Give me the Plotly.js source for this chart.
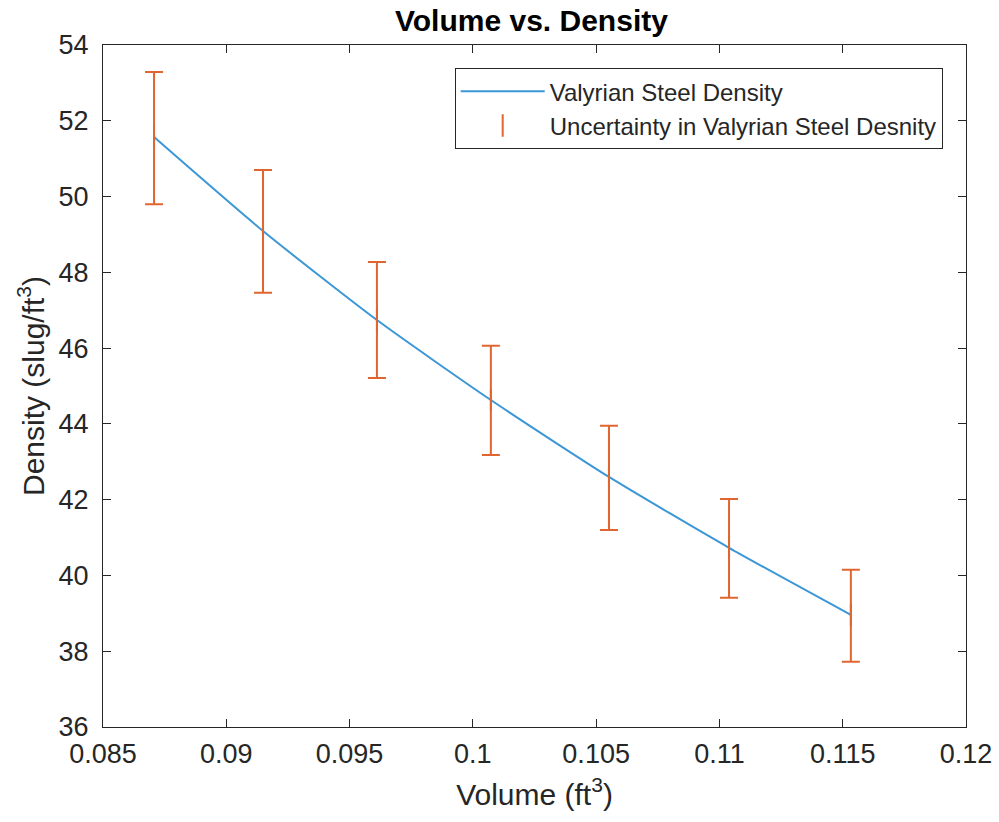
<!DOCTYPE html>
<html>
<head>
<meta charset="utf-8">
<script src="https://cdn.plot.ly/plotly-3.0.1.min.js"></script>
<style>html,body{margin:0;padding:0;background:#fff;}#chart{width:999px;height:822px;}</style>
</head>
<body>
<div id="chart"></div>
<script>
// Data
const volume = [0.08707, 0.09149, 0.09611, 0.10073, 0.10552, 0.11039, 0.11533];
const density = [51.57, 49.09, 46.74, 44.63, 42.60, 40.73, 38.96];
const errPlus = [1.72, 1.61, 1.53, 1.43, 1.35, 1.29, 1.19];
const errMinus = [1.77, 1.63, 1.53, 1.45, 1.40, 1.32, 1.24];
const xTicks = [0.085, 0.09, 0.095, 0.1, 0.105, 0.11, 0.115, 0.12];
const xTickLabels = ['0.085', '0.09', '0.095', '0.1', '0.105', '0.11', '0.115', '0.12'];
const yTicks = [36, 38, 40, 42, 44, 46, 48, 50, 52, 54];

const font = 'Liberation Sans, Arial, Helvetica, sans-serif';
const axisColor = '#262626';
const orange = '#E0652F';

const traces = [
  {
    x: volume, y: density,
    type: 'scatter', mode: 'lines',
    name: 'Valyrian Steel Density',
    line: {color: '#3C97D6', width: 2, shape: 'spline', smoothing: 0.6}
  },
  {
    x: volume, y: density,
    type: 'scatter', mode: 'markers',
    name: 'Uncertainty in Valyrian Steel Desnity',
    marker: {color: orange, size: 16, symbol: 'line-ns', line: {color: orange, width: 2}},
    error_y: {type: 'data', symmetric: false, array: errPlus, arrayminus: errMinus,
              color: orange, thickness: 2, width: 9}
  }
];

const axisCommon = {
  showgrid: false, zeroline: false, showline: true, linecolor: axisColor, linewidth: 1,
  mirror: 'allticks', ticks: 'inside', ticklen: 8, tickcolor: axisColor, tickwidth: 1,
  tickfont: {family: font, size: 27, color: axisColor}
};

const layout = {
  width: 999, height: 822,
  margin: {l: 103, r: 33, t: 45, b: 95},
  paper_bgcolor: '#fff', plot_bgcolor: '#fff',
  showlegend: true,
  title: {text: '<b>Volume vs. Density</b>', font: {family: font, size: 30, color: '#000'},
          x: 0.532, xanchor: 'center', y: 0.975, yanchor: 'middle'},
  xaxis: Object.assign({}, axisCommon, {
    range: [0.085, 0.12], tickvals: xTicks, ticktext: xTickLabels, ticklabelstandoff: 3,
    title: {text: 'Volume (ft<sup>3</sup>)', font: {family: font, size: 30, color: axisColor}, standoff: 15}
  }),
  yaxis: Object.assign({}, axisCommon, {
    range: [36, 54], tickvals: yTicks, ticklabelstandoff: 8,
    title: {text: 'Density (slug/ft<sup>3</sup>)', font: {family: font, size: 30, color: axisColor}, standoff: 5}
  }),
  legend: {
    x: 0.973, y: 0.966, xanchor: 'right', yanchor: 'top',
    bgcolor: '#fff', bordercolor: axisColor, borderwidth: 1,
    font: {family: font, size: 24, color: axisColor},
    itemwidth: 84, tracegroupgap: 0
  }
};

Plotly.newPlot('chart', traces, layout, {displayModeBar: false, staticPlot: true});
</script>
</body>
</html>
